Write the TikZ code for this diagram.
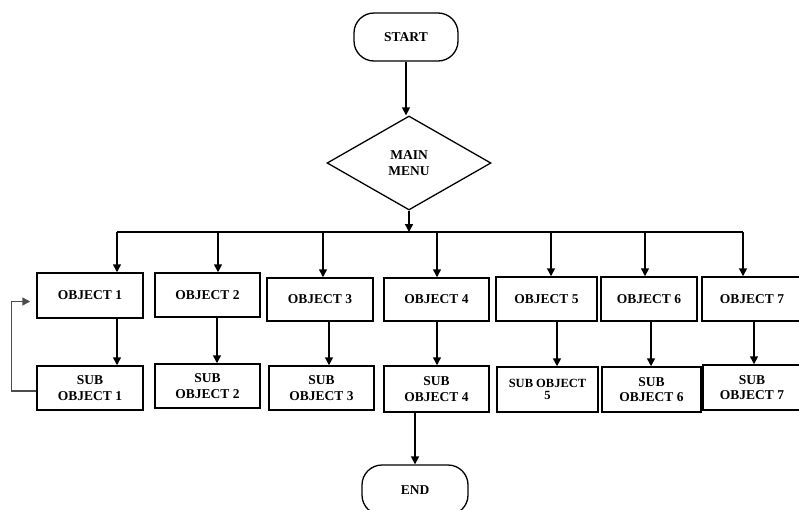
\documentclass[tikz,border=0pt]{standalone}
\usepackage{fontspec}
\setmainfont{Liberation Serif}
\usetikzlibrary{shapes.geometric,arrows.meta}
\begin{document}
\begin{tikzpicture}[x=1pt,y=1pt,
  every node/.style={font=\fontsize{13.5}{15.5}\selectfont\bfseries, align=center, inner sep=0pt},
  box/.style={draw, line width=1.5pt, rectangle},
  term/.style={draw, line width=1.3pt, rectangle, rounded corners=20pt},
  dec/.style={draw, line width=1.3pt, diamond, aspect=1.745, minimum width=164pt, minimum height=94pt},
  arr/.style={line width=1.5pt, -{Triangle[length=8pt,width=8pt]}},
  ln/.style={line width=1.5pt}]
\useasboundingbox (0,0) rectangle (799,-509);
\node[term, minimum width=104pt, minimum height=48pt] (st) at (406,-37) {START};
\node[dec] (d) at (409,-163) {MAIN\\MENU};
% objects
\node[box, minimum width=106pt, minimum height=45pt] (o1) at (90,-295.5) {OBJECT 1};
\node[box, minimum width=105pt, minimum height=44pt] (o2) at (207.5,-295) {OBJECT 2};
\node[box, minimum width=106pt, minimum height=43pt] (o3) at (320,-299.5) {OBJECT 3};
\node[box, minimum width=105pt, minimum height=43pt] (o4) at (436.5,-299.5) {OBJECT 4};
\node[box, minimum width=101pt, minimum height=44pt] (o5) at (546.5,-299) {OBJECT 5};
\node[box, minimum width=96pt, minimum height=44pt] (o6) at (649,-299) {OBJECT 6};
\node[box, minimum width=100pt, minimum height=44pt] (o7) at (752,-299) {OBJECT 7};
% sub objects
\node[box, minimum width=106pt, minimum height=44pt] (s1) at (90,-388) {SUB\\OBJECT 1};
\node[box, minimum width=105pt, minimum height=44pt] (s2) at (207.5,-386) {SUB\\OBJECT 2};
\node[box, minimum width=105pt, minimum height=44pt] (s3) at (321.5,-388) {SUB\\OBJECT 3};
\node[box, minimum width=105pt, minimum height=46pt] (s4) at (436.5,-389) {SUB\\OBJECT 4};
\node[box, minimum width=101pt, minimum height=45pt, font=\fontsize{12.5}{12}\selectfont\bfseries] (s5) at (547.5,-389.5) {SUB OBJECT\\5};
\node[box, minimum width=99pt, minimum height=45pt] (s6) at (651.5,-389.5) {SUB\\OBJECT 6};
\node[box, minimum width=98pt, minimum height=45pt] (s7) at (752,-387.5) {SUB\\OBJECT 7};
\node[term, minimum width=106pt, minimum height=50pt] (e) at (415,-490) {END};
% connectors
\draw[arr] (st.south) -- (st.south |- d.north);
\coordinate (bl) at (117,-232);
\coordinate (br) at (743,-232);
\draw[ln] (bl) -- (br);
\draw[arr] (d.south) -- (d.south |- bl);
\foreach \n/\x in {1/117,2/218,3/323,4/437,5/551,6/645,7/743}{
  \coordinate (b\n) at (\x,-232);
  \draw[arr] (b\n) -- (b\n |- o\n.north);
}
\foreach \n/\x in {1/117,2/217,3/329,4/437,5/557,6/651,7/754}{
  \coordinate (a\n) at (\x,0);
  \draw[arr] (a\n |- o\n.south) -- (a\n |- s\n.north);
}
\draw[arr, black!70] ([yshift=-3pt]s1.west) -- ++(-25,0) |- ([xshift=-6pt,yshift=-6pt]o1.west);
\draw[arr] (e.north |- s4.south) -- (e.north);
\end{tikzpicture}
\end{document}
